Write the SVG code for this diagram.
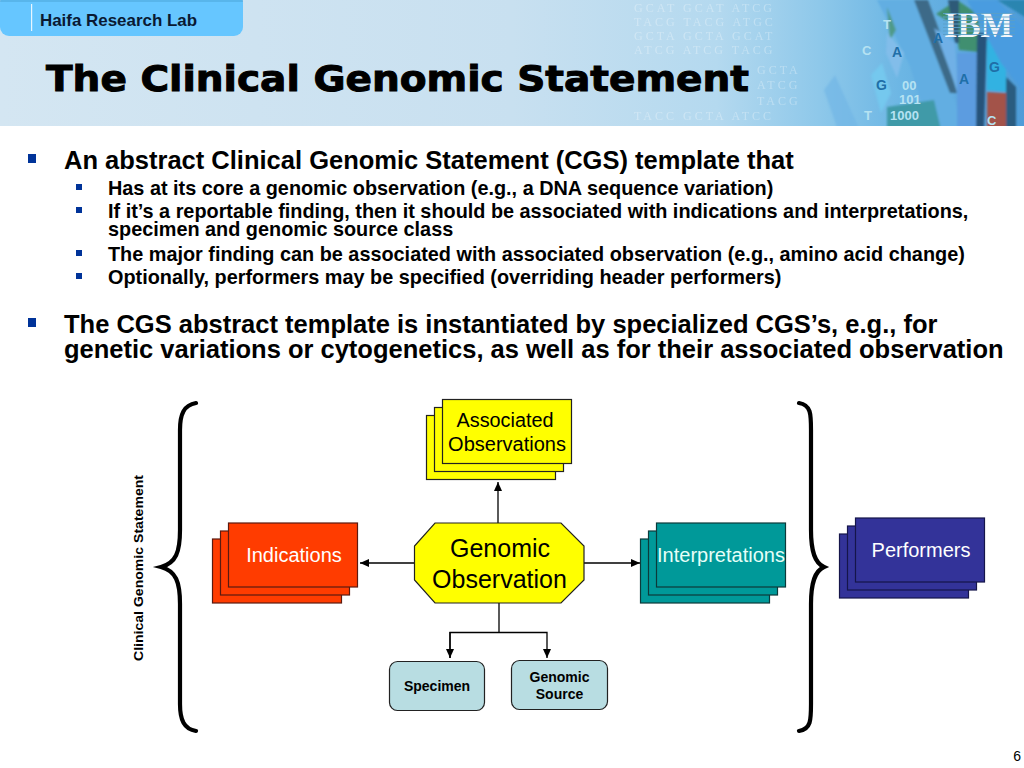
<svg xmlns="http://www.w3.org/2000/svg" width="1024" height="768" viewBox="0 0 1024 768">
<style>
text{font-family:"Liberation Sans",Arial,sans-serif}
.l1{font-size:25.500px;font-weight:700;fill:#000}
.l2{font-size:19.850px;font-weight:700;fill:#000}
.b1{fill:#003399}
.dna{font-family:"Liberation Serif",serif;font-size:12px;fill:#fff;opacity:.3;letter-spacing:3px}
.dl{font-size:13px;font-weight:700;fill:#b5e2f2}
.dk{font-size:14px;font-weight:700;fill:#1f6fa8}
.n{font-size:20px;text-anchor:middle}
.s{font-size:14px;font-weight:700;text-anchor:middle;fill:#000}
.brace{fill:none;stroke:#000;stroke-width:4.200;stroke-linecap:round}
.conn{fill:none;stroke:#000;stroke-width:1.300}
.red rect{fill:#ff3c00;stroke:#5a1a10;stroke-width:1.200}
.yel rect{fill:#ffff00;stroke:#222;stroke-width:1.200}
.teal rect{fill:#009999;stroke:#0c3a3a;stroke-width:1.200}
.blu rect{fill:#333399;stroke:#15154a;stroke-width:1.200}
.pale{fill:#b8dde2;stroke:#222;stroke-width:1.200}
</style>
<defs>
<linearGradient id="hdr" x1="0" x2="1" y1="0" y2="0"><stop offset="0" stop-color="#d4e6f2"/><stop offset=".5" stop-color="#c8e0f0"/><stop offset=".7" stop-color="#b4d9ef"/><stop offset=".8" stop-color="#8ec8ea"/><stop offset=".88" stop-color="#6cb6e4"/><stop offset="1" stop-color="#4e9cd8"/></linearGradient>
<filter id="soft" x="-5%" y="-5%" width="110%" height="110%"><feGaussianBlur stdDeviation="0.900"/></filter>
<clipPath id="hclip"><rect width="1024" height="126"/></clipPath>
<marker id="ah" markerWidth="10" markerHeight="10" refX="9" refY="4" orient="auto" markerUnits="userSpaceOnUse"><path d="M0 0L9 4L0 8Z" fill="#000"/></marker>
</defs>
<rect width="1024" height="768" fill="#fff"/>
<g id="header">
<rect x="0" y="0" width="1024" height="126" fill="url(#hdr)"/>
<g id="texture" clip-path="url(#hclip)">
<g filter="url(#soft)">
<path d="M877 0H916L941 57L964 130H930L910 66Z" fill="#62aee2"/>
<path d="M887 7L896 30L890 40Z" fill="#4f9a88"/>
<path d="M887 33L904 53L897 78L886 53Z" fill="#82bdea"/>
<path d="M914 0H928L939 30L957 93L950 93Z" fill="#3c6a88"/>
<path d="M936 14L957 0L979 15L979 52L959 50L955 25Z" fill="#3f8f70"/>
<path d="M934 28L955 43L958 93Z" fill="#6fb0e6"/>
<path d="M948 0H959V43H955Z" fill="#2e5a78"/>
<path d="M957 53H977L976 130H957Z" fill="#5c9ce0"/>
<path d="M977 33H987L984 130H976Z" fill="#28527a"/>
<path d="M987 40L1006 43V92L987 90Z" fill="#30b2e2"/>
<path d="M987 92L1006 93V130H987Z" fill="#a3524a"/>
<path d="M1006 77L1016 87V130H1006Z" fill="#2a5c80"/>
<path d="M967 0H997L1030 33V100L1001 63Z" fill="#4a9ce0"/>
<path d="M997 0H1030V20Z" fill="#2a85b0"/>
<path d="M887 107L934 100L941 130H887Z" fill="#3f9aa8"/>
<path d="M871 75L882 63L891 93L881 113Z" fill="#74c8ee"/>
<path d="M835 75L860 130H838L824 90Z" fill="#72b6e6" opacity=".7"/>
</g>
<g id="dna-rows">
<text x="634" y="12" class="dna">GCAT GCAT ATCG</text>
<text x="634" y="26" class="dna">TACG TACG ATGC</text>
<text x="634" y="40" class="dna">GCTA GCTA GCAT</text>
<text x="634" y="54" class="dna">ATCG ATCG TACG</text>
<text x="757" y="74" class="dna">GCTA</text>
<text x="757" y="89" class="dna">ATCG</text>
<text x="757" y="105" class="dna">TACG</text>
<text x="634" y="120" class="dna">TACC GCTA ATCC</text>
</g>
<text x="883" y="29" class="dl">T</text>
<text x="892" y="57" class="dk">A</text>
<text x="862" y="55" class="dl">C</text>
<text x="876" y="90" class="dk">G</text>
<text x="902" y="90" class="dl">00</text>
<text x="899" y="104" class="dl">101</text>
<text x="864" y="120" class="dl">T</text>
<text x="890" y="120" class="dl">1000</text>
<text x="933" y="43" class="dk">A</text>
<text x="959" y="84" class="dk">A</text>
<text x="989" y="72" class="dk">G</text>
<text x="987" y="125" class="dl">C</text>
</g>
<rect x="0" y="-6" width="243" height="42" rx="9" fill="#66c6ff"/>
<path d="M0 0H243V2H0Z" fill="#4aa3d8" opacity=".5"/>
<rect x="31" y="4" width="1.200" height="27" fill="#e8f6ff"/>
<text x="40" y="26" font-size="17" font-weight="700" fill="#0a1a33" textLength="157" lengthAdjust="spacingAndGlyphs">Haifa Research Lab</text>
<text x="46" y="91" font-size="36" font-weight="700" fill="#000" stroke="#000" stroke-width="1" style="font-family:'DejaVu Sans',sans-serif" textLength="703" lengthAdjust="spacingAndGlyphs">The Clinical Genomic Statement</text>
<g id="ibm">
<text x="944" y="37" font-size="36" font-weight="700" fill="#f2f6fa" style="font-family:'Liberation Serif',serif" textLength="69" lengthAdjust="spacingAndGlyphs">IBM</text>
<path d="M943 13.500H1015M943 17H1015M943 20.500H1015M943 24H1015M943 27.500H1015M943 31H1015M943 34.500H1015" stroke="#5a9fc8" stroke-width="1.100" opacity=".9"/>
</g>
</g>
<g id="bullets">
<rect class="b1" x="28" y="154" width="8" height="9"/>
<text class="l1" x="64" y="169">An abstract Clinical Genomic Statement (CGS) template that</text>
<rect class="b1" x="76" y="184" width="6" height="6"/>
<text class="l2" x="108" y="194.500">Has at its core a genomic observation (e.g., a DNA sequence variation)</text>
<rect class="b1" x="76" y="207" width="6" height="6"/>
<text class="l2" x="108" y="217.500">If it’s a reportable finding, then it should be associated with indications and interpretations,</text>
<text class="l2" x="108" y="236">specimen and genomic source class</text>
<rect class="b1" x="76" y="250" width="6" height="6"/>
<text class="l2" x="108" y="260.500">The major finding can be associated with associated observation (e.g., amino acid change)</text>
<rect class="b1" x="76" y="273" width="6" height="6"/>
<text class="l2" x="108" y="284">Optionally, performers may be specified (overriding header performers)</text>
<rect class="b1" x="28" y="318" width="8" height="9"/>
<text class="l1" x="64" y="333">The CGS abstract template is instantiated by specialized CGS’s, e.g., for</text>
<text class="l1" x="64" y="358">genetic variations or cytogenetics, as well as for their associated observation</text>
</g>
<g id="braces">
<path class="brace" d="M196 403C184 405 180 414 180 430V530C180 552 176 563 161 567C176 571 180 582 180 604V704C180 720 184 729 196 731"/>
<path class="brace" d="M799 403C811 405 811 414 811 430V530C811 552 815 563 824 567C815 571 811 582 811 604V704C811 720 811 729 799 731"/>
</g>
<text id="csg-label" transform="translate(143 661) rotate(-90)" font-size="12.800" font-weight="700" fill="#000" textLength="186" lengthAdjust="spacingAndGlyphs">Clinical Genomic Statement</text>
<g id="connectors">
<path class="conn" d="M414 563H360" marker-end="url(#ah)"/>
<path class="conn" d="M584 563H640" marker-end="url(#ah)"/>
<path class="conn" d="M498 523V482" marker-end="url(#ah)" stroke-width="1.600"/>
<path class="conn" d="M499 603V632"/>
<path class="conn" d="M450 658V632.500H547V658" marker-end="url(#ah)"/>
<path class="conn" d="M450 632V658" marker-end="url(#ah)"/>
</g>
<g id="associated-observations" class="yel">
<rect x="426.500" y="415.500" width="129" height="64"/>
<rect x="434.500" y="407.500" width="129" height="64"/>
<rect x="442.500" y="399.500" width="129" height="64"/>
<text class="n" x="505" y="427" fill="#000" textLength="97" lengthAdjust="spacingAndGlyphs">Associated</text>
<text class="n" x="507" y="451" fill="#000">Observations</text>
</g>
<g id="genomic-observation">
<path d="M435 523H561L584 546V580L561 603H435L414.500 580V546Z" fill="#ffff00" stroke="#222" stroke-width="1.200"/>
<text x="500" y="557" font-size="25" text-anchor="middle" fill="#000">Genomic</text>
<text x="499.500" y="588" font-size="25" text-anchor="middle" fill="#000">Observation</text>
</g>
<g id="indications" class="red">
<rect x="212.500" y="539" width="129" height="64"/>
<rect x="220.500" y="531" width="129" height="64"/>
<rect x="228.500" y="523" width="129" height="64"/>
<text class="n" x="294" y="562" fill="#fff">Indications</text>
</g>
<g id="interpretations" class="teal">
<rect x="640.500" y="539" width="129" height="64"/>
<rect x="648.500" y="531" width="129" height="64"/>
<rect x="656.500" y="523" width="129" height="64"/>
<text class="n" x="721" y="562" fill="#e6fff8">Interpretations</text>
</g>
<g id="performers" class="blu">
<rect x="839.500" y="534" width="129" height="64"/>
<rect x="847.500" y="526" width="129" height="64"/>
<rect x="855.500" y="518" width="129" height="64"/>
<text class="n" x="921" y="557" fill="#fff">Performers</text>
</g>
<g id="specimen">
<rect class="pale" x="389.500" y="661.500" width="95" height="49" rx="8"/>
<text class="s" x="437" y="691">Specimen</text>
</g>
<g id="genomic-source">
<rect class="pale" x="511.500" y="660.500" width="96" height="49" rx="8"/>
<text class="s" x="559.500" y="682">Genomic</text>
<text class="s" x="559.500" y="699">Source</text>
</g>
<text id="page" x="1021" y="761" font-size="14" text-anchor="end" fill="#000">6</text>
</svg>
